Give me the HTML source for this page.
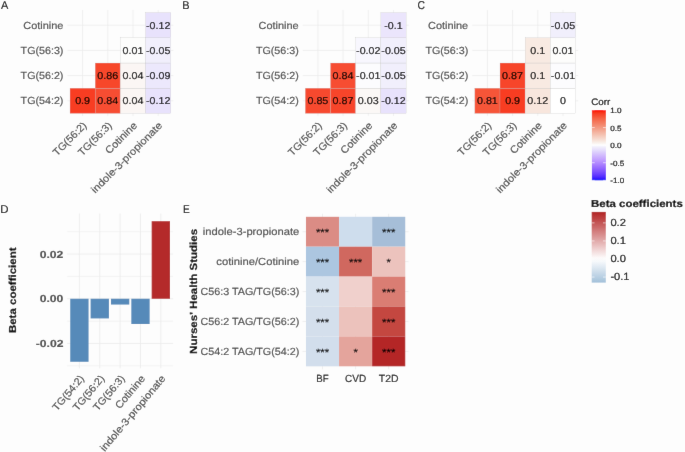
<!DOCTYPE html>
<html><head><meta charset="utf-8"><style>
html,body{margin:0;padding:0;background:#fdfdfd;}
svg{display:block;font-family:"Liberation Sans", sans-serif;}
text{text-rendering:geometricPrecision;}
</style></head><body>
<svg width="685" height="452" viewBox="0 0 685 452">
<defs><filter id="bl" x="0" y="0" width="685" height="452" filterUnits="userSpaceOnUse"><feConvolveMatrix order="3" kernelMatrix="0.0035 0.0587 0.0035 0.0587 1 0.0587 0.0035 0.0587 0.0035" divisor="1.2488" edgeMode="duplicate" preserveAlpha="true"/></filter></defs>
<g filter="url(#bl)">
<rect x="-10" y="-10" width="705" height="472" fill="#fdfdfd"/>
<text x="1.00" y="9.05" font-size="11.34" fill="#000" stroke="#000" stroke-width="0.12" textLength="7.32" lengthAdjust="spacingAndGlyphs">A</text>
<line x1="82.60" y1="10.08" x2="82.60" y2="115.92" stroke="#ebebeb" stroke-width="0.7"/>
<line x1="67.48" y1="25.20" x2="173.32" y2="25.20" stroke="#ebebeb" stroke-width="0.7"/>
<line x1="107.80" y1="10.08" x2="107.80" y2="115.92" stroke="#ebebeb" stroke-width="0.7"/>
<line x1="67.48" y1="50.40" x2="173.32" y2="50.40" stroke="#ebebeb" stroke-width="0.7"/>
<line x1="133.00" y1="10.08" x2="133.00" y2="115.92" stroke="#ebebeb" stroke-width="0.7"/>
<line x1="67.48" y1="75.60" x2="173.32" y2="75.60" stroke="#ebebeb" stroke-width="0.7"/>
<line x1="158.20" y1="10.08" x2="158.20" y2="115.92" stroke="#ebebeb" stroke-width="0.7"/>
<line x1="67.48" y1="100.80" x2="173.32" y2="100.80" stroke="#ebebeb" stroke-width="0.7"/>
<rect x="70.00" y="88.20" width="25.20" height="25.20" fill="#f83c22" stroke="#bebebe" stroke-width="0.25"/>
<rect x="95.20" y="88.20" width="25.20" height="25.20" fill="#f74d31" stroke="#bebebe" stroke-width="0.25"/>
<rect x="120.40" y="88.20" width="25.20" height="25.20" fill="#fbf6f4" stroke="#bebebe" stroke-width="0.25"/>
<rect x="145.60" y="88.20" width="25.20" height="25.20" fill="#e8e2fc" stroke="#bebebe" stroke-width="0.25"/>
<rect x="95.20" y="63.00" width="25.20" height="25.20" fill="#f7472c" stroke="#bebebe" stroke-width="0.25"/>
<rect x="120.40" y="63.00" width="25.20" height="25.20" fill="#fbf6f4" stroke="#bebebe" stroke-width="0.25"/>
<rect x="145.60" y="63.00" width="25.20" height="25.20" fill="#ece8fc" stroke="#bebebe" stroke-width="0.25"/>
<rect x="120.40" y="37.80" width="25.20" height="25.20" fill="#fdfdfc" stroke="#bebebe" stroke-width="0.25"/>
<rect x="145.60" y="37.80" width="25.20" height="25.20" fill="#f1effc" stroke="#bebebe" stroke-width="0.25"/>
<rect x="145.60" y="12.60" width="25.20" height="25.20" fill="#e8e2fc" stroke="#bebebe" stroke-width="0.25"/>
<text x="82.60" y="104.23" font-size="9.96" fill="#000" stroke="#000" stroke-width="0.18" text-anchor="middle" textLength="14.95" lengthAdjust="spacingAndGlyphs">0.9</text>
<text x="107.80" y="104.23" font-size="9.96" fill="#000" stroke="#000" stroke-width="0.18" text-anchor="middle" textLength="20.93" lengthAdjust="spacingAndGlyphs">0.84</text>
<text x="133.00" y="104.23" font-size="9.96" fill="#000" stroke="#000" stroke-width="0.18" text-anchor="middle" textLength="20.93" lengthAdjust="spacingAndGlyphs">0.04</text>
<text x="158.20" y="104.23" font-size="9.96" fill="#000" stroke="#000" stroke-width="0.18" text-anchor="middle" textLength="24.32" lengthAdjust="spacingAndGlyphs">-0.12</text>
<text x="107.80" y="79.03" font-size="9.96" fill="#000" stroke="#000" stroke-width="0.18" text-anchor="middle" textLength="20.93" lengthAdjust="spacingAndGlyphs">0.86</text>
<text x="133.00" y="79.03" font-size="9.96" fill="#000" stroke="#000" stroke-width="0.18" text-anchor="middle" textLength="20.93" lengthAdjust="spacingAndGlyphs">0.04</text>
<text x="158.20" y="79.03" font-size="9.96" fill="#000" stroke="#000" stroke-width="0.18" text-anchor="middle" textLength="24.32" lengthAdjust="spacingAndGlyphs">-0.09</text>
<text x="133.00" y="53.83" font-size="9.96" fill="#000" stroke="#000" stroke-width="0.18" text-anchor="middle" textLength="20.93" lengthAdjust="spacingAndGlyphs">0.01</text>
<text x="158.20" y="53.83" font-size="9.96" fill="#000" stroke="#000" stroke-width="0.18" text-anchor="middle" textLength="24.32" lengthAdjust="spacingAndGlyphs">-0.05</text>
<text x="158.20" y="28.63" font-size="9.96" fill="#000" stroke="#000" stroke-width="0.18" text-anchor="middle" textLength="24.32" lengthAdjust="spacingAndGlyphs">-0.12</text>
<text x="63.40" y="104.34" font-size="10.28" fill="#4d4d4d" stroke="#4d4d4d" stroke-width="0.18" text-anchor="end" textLength="42.79" lengthAdjust="spacingAndGlyphs">TG(54:2)</text>
<text x="63.40" y="79.14" font-size="10.28" fill="#4d4d4d" stroke="#4d4d4d" stroke-width="0.18" text-anchor="end" textLength="42.79" lengthAdjust="spacingAndGlyphs">TG(56:2)</text>
<text x="63.40" y="53.94" font-size="10.28" fill="#4d4d4d" stroke="#4d4d4d" stroke-width="0.18" text-anchor="end" textLength="42.79" lengthAdjust="spacingAndGlyphs">TG(56:3)</text>
<text x="63.40" y="28.74" font-size="10.28" fill="#4d4d4d" stroke="#4d4d4d" stroke-width="0.18" text-anchor="end" textLength="40.16" lengthAdjust="spacingAndGlyphs">Cotinine</text>
<text x="87.31" y="126.13" font-size="10.28" fill="#4d4d4d" stroke="#4d4d4d" stroke-width="0.18" text-anchor="end" textLength="42.79" lengthAdjust="spacingAndGlyphs" transform="rotate(-45 87.31 126.13)">TG(56:2)</text>
<text x="112.51" y="126.13" font-size="10.28" fill="#4d4d4d" stroke="#4d4d4d" stroke-width="0.18" text-anchor="end" textLength="42.79" lengthAdjust="spacingAndGlyphs" transform="rotate(-45 112.51 126.13)">TG(56:3)</text>
<text x="137.71" y="126.13" font-size="10.28" fill="#4d4d4d" stroke="#4d4d4d" stroke-width="0.18" text-anchor="end" textLength="40.16" lengthAdjust="spacingAndGlyphs" transform="rotate(-45 137.71 126.13)">Cotinine</text>
<text x="162.91" y="126.13" font-size="10.28" fill="#4d4d4d" stroke="#4d4d4d" stroke-width="0.18" text-anchor="end" textLength="95.50" lengthAdjust="spacingAndGlyphs" transform="rotate(-45 162.91 126.13)">indole-3-propionate</text>
<text x="182.20" y="9.05" font-size="11.34" fill="#000" stroke="#000" stroke-width="0.12" textLength="7.34" lengthAdjust="spacingAndGlyphs">B</text>
<line x1="317.90" y1="10.08" x2="317.90" y2="115.92" stroke="#ebebeb" stroke-width="0.7"/>
<line x1="302.78" y1="25.20" x2="408.62" y2="25.20" stroke="#ebebeb" stroke-width="0.7"/>
<line x1="343.10" y1="10.08" x2="343.10" y2="115.92" stroke="#ebebeb" stroke-width="0.7"/>
<line x1="302.78" y1="50.40" x2="408.62" y2="50.40" stroke="#ebebeb" stroke-width="0.7"/>
<line x1="368.30" y1="10.08" x2="368.30" y2="115.92" stroke="#ebebeb" stroke-width="0.7"/>
<line x1="302.78" y1="75.60" x2="408.62" y2="75.60" stroke="#ebebeb" stroke-width="0.7"/>
<line x1="393.50" y1="10.08" x2="393.50" y2="115.92" stroke="#ebebeb" stroke-width="0.7"/>
<line x1="302.78" y1="100.80" x2="408.62" y2="100.80" stroke="#ebebeb" stroke-width="0.7"/>
<rect x="305.30" y="88.20" width="25.20" height="25.20" fill="#f74a2e" stroke="#bebebe" stroke-width="0.25"/>
<rect x="330.50" y="88.20" width="25.20" height="25.20" fill="#f74529" stroke="#bebebe" stroke-width="0.25"/>
<rect x="355.70" y="88.20" width="25.20" height="25.20" fill="#fbf8f6" stroke="#bebebe" stroke-width="0.25"/>
<rect x="380.90" y="88.20" width="25.20" height="25.20" fill="#e8e2fc" stroke="#bebebe" stroke-width="0.25"/>
<rect x="330.50" y="63.00" width="25.20" height="25.20" fill="#f74d31" stroke="#bebebe" stroke-width="0.25"/>
<rect x="355.70" y="63.00" width="25.20" height="25.20" fill="#fcfcfe" stroke="#bebebe" stroke-width="0.25"/>
<rect x="380.90" y="63.00" width="25.20" height="25.20" fill="#f1effc" stroke="#bebebe" stroke-width="0.25"/>
<rect x="355.70" y="37.80" width="25.20" height="25.20" fill="#f8f7fe" stroke="#bebebe" stroke-width="0.25"/>
<rect x="380.90" y="37.80" width="25.20" height="25.20" fill="#f1effc" stroke="#bebebe" stroke-width="0.25"/>
<rect x="380.90" y="12.60" width="25.20" height="25.20" fill="#ebe5fc" stroke="#bebebe" stroke-width="0.25"/>
<text x="317.90" y="104.23" font-size="9.96" fill="#000" stroke="#000" stroke-width="0.18" text-anchor="middle" textLength="20.93" lengthAdjust="spacingAndGlyphs">0.85</text>
<text x="343.10" y="104.23" font-size="9.96" fill="#000" stroke="#000" stroke-width="0.18" text-anchor="middle" textLength="20.93" lengthAdjust="spacingAndGlyphs">0.87</text>
<text x="368.30" y="104.23" font-size="9.96" fill="#000" stroke="#000" stroke-width="0.18" text-anchor="middle" textLength="20.93" lengthAdjust="spacingAndGlyphs">0.03</text>
<text x="393.50" y="104.23" font-size="9.96" fill="#000" stroke="#000" stroke-width="0.18" text-anchor="middle" textLength="24.32" lengthAdjust="spacingAndGlyphs">-0.12</text>
<text x="343.10" y="79.03" font-size="9.96" fill="#000" stroke="#000" stroke-width="0.18" text-anchor="middle" textLength="20.93" lengthAdjust="spacingAndGlyphs">0.84</text>
<text x="368.30" y="79.03" font-size="9.96" fill="#000" stroke="#000" stroke-width="0.18" text-anchor="middle" textLength="24.32" lengthAdjust="spacingAndGlyphs">-0.01</text>
<text x="393.50" y="79.03" font-size="9.96" fill="#000" stroke="#000" stroke-width="0.18" text-anchor="middle" textLength="24.32" lengthAdjust="spacingAndGlyphs">-0.05</text>
<text x="368.30" y="53.83" font-size="9.96" fill="#000" stroke="#000" stroke-width="0.18" text-anchor="middle" textLength="24.32" lengthAdjust="spacingAndGlyphs">-0.02</text>
<text x="393.50" y="53.83" font-size="9.96" fill="#000" stroke="#000" stroke-width="0.18" text-anchor="middle" textLength="24.32" lengthAdjust="spacingAndGlyphs">-0.05</text>
<text x="393.50" y="28.63" font-size="9.96" fill="#000" stroke="#000" stroke-width="0.18" text-anchor="middle" textLength="18.34" lengthAdjust="spacingAndGlyphs">-0.1</text>
<text x="298.70" y="104.34" font-size="10.28" fill="#4d4d4d" stroke="#4d4d4d" stroke-width="0.18" text-anchor="end" textLength="42.79" lengthAdjust="spacingAndGlyphs">TG(54:2)</text>
<text x="298.70" y="79.14" font-size="10.28" fill="#4d4d4d" stroke="#4d4d4d" stroke-width="0.18" text-anchor="end" textLength="42.79" lengthAdjust="spacingAndGlyphs">TG(56:2)</text>
<text x="298.70" y="53.94" font-size="10.28" fill="#4d4d4d" stroke="#4d4d4d" stroke-width="0.18" text-anchor="end" textLength="42.79" lengthAdjust="spacingAndGlyphs">TG(56:3)</text>
<text x="298.70" y="28.74" font-size="10.28" fill="#4d4d4d" stroke="#4d4d4d" stroke-width="0.18" text-anchor="end" textLength="40.16" lengthAdjust="spacingAndGlyphs">Cotinine</text>
<text x="322.61" y="126.13" font-size="10.28" fill="#4d4d4d" stroke="#4d4d4d" stroke-width="0.18" text-anchor="end" textLength="42.79" lengthAdjust="spacingAndGlyphs" transform="rotate(-45 322.61 126.13)">TG(56:2)</text>
<text x="347.81" y="126.13" font-size="10.28" fill="#4d4d4d" stroke="#4d4d4d" stroke-width="0.18" text-anchor="end" textLength="42.79" lengthAdjust="spacingAndGlyphs" transform="rotate(-45 347.81 126.13)">TG(56:3)</text>
<text x="373.01" y="126.13" font-size="10.28" fill="#4d4d4d" stroke="#4d4d4d" stroke-width="0.18" text-anchor="end" textLength="40.16" lengthAdjust="spacingAndGlyphs" transform="rotate(-45 373.01 126.13)">Cotinine</text>
<text x="398.21" y="126.13" font-size="10.28" fill="#4d4d4d" stroke="#4d4d4d" stroke-width="0.18" text-anchor="end" textLength="95.50" lengthAdjust="spacingAndGlyphs" transform="rotate(-45 398.21 126.13)">indole-3-propionate</text>
<text x="417.40" y="9.05" font-size="11.34" fill="#000" stroke="#000" stroke-width="0.12" textLength="7.47" lengthAdjust="spacingAndGlyphs">C</text>
<line x1="487.40" y1="10.08" x2="487.40" y2="115.92" stroke="#ebebeb" stroke-width="0.7"/>
<line x1="472.28" y1="25.20" x2="578.12" y2="25.20" stroke="#ebebeb" stroke-width="0.7"/>
<line x1="512.60" y1="10.08" x2="512.60" y2="115.92" stroke="#ebebeb" stroke-width="0.7"/>
<line x1="472.28" y1="50.40" x2="578.12" y2="50.40" stroke="#ebebeb" stroke-width="0.7"/>
<line x1="537.80" y1="10.08" x2="537.80" y2="115.92" stroke="#ebebeb" stroke-width="0.7"/>
<line x1="472.28" y1="75.60" x2="578.12" y2="75.60" stroke="#ebebeb" stroke-width="0.7"/>
<line x1="563.00" y1="10.08" x2="563.00" y2="115.92" stroke="#ebebeb" stroke-width="0.7"/>
<line x1="472.28" y1="100.80" x2="578.12" y2="100.80" stroke="#ebebeb" stroke-width="0.7"/>
<rect x="474.80" y="88.20" width="25.20" height="25.20" fill="#f65538" stroke="#bebebe" stroke-width="0.25"/>
<rect x="500.00" y="88.20" width="25.20" height="25.20" fill="#f83c22" stroke="#bebebe" stroke-width="0.25"/>
<rect x="525.20" y="88.20" width="25.20" height="25.20" fill="#f8e6dd" stroke="#bebebe" stroke-width="0.25"/>
<rect x="550.40" y="88.20" width="25.20" height="25.20" fill="#ffffff" stroke="#bebebe" stroke-width="0.25"/>
<rect x="500.00" y="63.00" width="25.20" height="25.20" fill="#f74529" stroke="#bebebe" stroke-width="0.25"/>
<rect x="525.20" y="63.00" width="25.20" height="25.20" fill="#f8eae2" stroke="#bebebe" stroke-width="0.25"/>
<rect x="550.40" y="63.00" width="25.20" height="25.20" fill="#fcfcfe" stroke="#bebebe" stroke-width="0.25"/>
<rect x="525.20" y="37.80" width="25.20" height="25.20" fill="#f8eae2" stroke="#bebebe" stroke-width="0.25"/>
<rect x="550.40" y="37.80" width="25.20" height="25.20" fill="#fdfdfc" stroke="#bebebe" stroke-width="0.25"/>
<rect x="550.40" y="12.60" width="25.20" height="25.20" fill="#f1effc" stroke="#bebebe" stroke-width="0.25"/>
<text x="487.40" y="104.23" font-size="9.96" fill="#000" stroke="#000" stroke-width="0.18" text-anchor="middle" textLength="20.93" lengthAdjust="spacingAndGlyphs">0.81</text>
<text x="512.60" y="104.23" font-size="9.96" fill="#000" stroke="#000" stroke-width="0.18" text-anchor="middle" textLength="14.95" lengthAdjust="spacingAndGlyphs">0.9</text>
<text x="537.80" y="104.23" font-size="9.96" fill="#000" stroke="#000" stroke-width="0.18" text-anchor="middle" textLength="20.93" lengthAdjust="spacingAndGlyphs">0.12</text>
<text x="563.00" y="104.23" font-size="9.96" fill="#000" stroke="#000" stroke-width="0.18" text-anchor="middle" textLength="5.98" lengthAdjust="spacingAndGlyphs">0</text>
<text x="512.60" y="79.03" font-size="9.96" fill="#000" stroke="#000" stroke-width="0.18" text-anchor="middle" textLength="20.93" lengthAdjust="spacingAndGlyphs">0.87</text>
<text x="537.80" y="79.03" font-size="9.96" fill="#000" stroke="#000" stroke-width="0.18" text-anchor="middle" textLength="14.95" lengthAdjust="spacingAndGlyphs">0.1</text>
<text x="563.00" y="79.03" font-size="9.96" fill="#000" stroke="#000" stroke-width="0.18" text-anchor="middle" textLength="24.32" lengthAdjust="spacingAndGlyphs">-0.01</text>
<text x="537.80" y="53.83" font-size="9.96" fill="#000" stroke="#000" stroke-width="0.18" text-anchor="middle" textLength="14.95" lengthAdjust="spacingAndGlyphs">0.1</text>
<text x="563.00" y="53.83" font-size="9.96" fill="#000" stroke="#000" stroke-width="0.18" text-anchor="middle" textLength="20.93" lengthAdjust="spacingAndGlyphs">0.01</text>
<text x="563.00" y="28.63" font-size="9.96" fill="#000" stroke="#000" stroke-width="0.18" text-anchor="middle" textLength="24.32" lengthAdjust="spacingAndGlyphs">-0.05</text>
<text x="468.20" y="104.34" font-size="10.28" fill="#4d4d4d" stroke="#4d4d4d" stroke-width="0.18" text-anchor="end" textLength="42.79" lengthAdjust="spacingAndGlyphs">TG(54:2)</text>
<text x="468.20" y="79.14" font-size="10.28" fill="#4d4d4d" stroke="#4d4d4d" stroke-width="0.18" text-anchor="end" textLength="42.79" lengthAdjust="spacingAndGlyphs">TG(56:2)</text>
<text x="468.20" y="53.94" font-size="10.28" fill="#4d4d4d" stroke="#4d4d4d" stroke-width="0.18" text-anchor="end" textLength="42.79" lengthAdjust="spacingAndGlyphs">TG(56:3)</text>
<text x="468.20" y="28.74" font-size="10.28" fill="#4d4d4d" stroke="#4d4d4d" stroke-width="0.18" text-anchor="end" textLength="40.16" lengthAdjust="spacingAndGlyphs">Cotinine</text>
<text x="492.11" y="126.13" font-size="10.28" fill="#4d4d4d" stroke="#4d4d4d" stroke-width="0.18" text-anchor="end" textLength="42.79" lengthAdjust="spacingAndGlyphs" transform="rotate(-45 492.11 126.13)">TG(56:2)</text>
<text x="517.31" y="126.13" font-size="10.28" fill="#4d4d4d" stroke="#4d4d4d" stroke-width="0.18" text-anchor="end" textLength="42.79" lengthAdjust="spacingAndGlyphs" transform="rotate(-45 517.31 126.13)">TG(56:3)</text>
<text x="542.51" y="126.13" font-size="10.28" fill="#4d4d4d" stroke="#4d4d4d" stroke-width="0.18" text-anchor="end" textLength="40.16" lengthAdjust="spacingAndGlyphs" transform="rotate(-45 542.51 126.13)">Cotinine</text>
<text x="567.71" y="126.13" font-size="10.28" fill="#4d4d4d" stroke="#4d4d4d" stroke-width="0.18" text-anchor="end" textLength="95.50" lengthAdjust="spacingAndGlyphs" transform="rotate(-45 567.71 126.13)">indole-3-propionate</text>
<text x="591.30" y="104.80" font-size="9.43" fill="#000" stroke="#000" stroke-width="0.18" textLength="18.98" lengthAdjust="spacingAndGlyphs">Corr</text>
<defs><linearGradient id="gc" x1="0" y1="0" x2="0" y2="1"><stop offset="0.000" stop-color="#ff0000"/><stop offset="0.025" stop-color="#fa2813"/><stop offset="0.050" stop-color="#f83c22"/><stop offset="0.075" stop-color="#f74a2e"/><stop offset="0.100" stop-color="#f6573a"/><stop offset="0.125" stop-color="#f56446"/><stop offset="0.150" stop-color="#f46e52"/><stop offset="0.175" stop-color="#f4795e"/><stop offset="0.200" stop-color="#f38369"/><stop offset="0.225" stop-color="#f38e75"/><stop offset="0.250" stop-color="#f39881"/><stop offset="0.275" stop-color="#f3a28d"/><stop offset="0.300" stop-color="#f3ac98"/><stop offset="0.325" stop-color="#f4b7a5"/><stop offset="0.350" stop-color="#f4c1b0"/><stop offset="0.375" stop-color="#f5cbbd"/><stop offset="0.400" stop-color="#f6d5c9"/><stop offset="0.425" stop-color="#f7dfd5"/><stop offset="0.450" stop-color="#f8eae2"/><stop offset="0.475" stop-color="#faf4f0"/><stop offset="0.500" stop-color="#ffffff"/><stop offset="0.525" stop-color="#f1effc"/><stop offset="0.550" stop-color="#ebe5fc"/><stop offset="0.575" stop-color="#e4dbfc"/><stop offset="0.600" stop-color="#dccffc"/><stop offset="0.625" stop-color="#d7c3fd"/><stop offset="0.650" stop-color="#d0b8fe"/><stop offset="0.675" stop-color="#caadfe"/><stop offset="0.700" stop-color="#c4a2ff"/><stop offset="0.725" stop-color="#bc97ff"/><stop offset="0.750" stop-color="#b38bff"/><stop offset="0.775" stop-color="#aa80ff"/><stop offset="0.800" stop-color="#a074ff"/><stop offset="0.825" stop-color="#9569ff"/><stop offset="0.850" stop-color="#8a5dff"/><stop offset="0.875" stop-color="#7e52ff"/><stop offset="0.900" stop-color="#7145ff"/><stop offset="0.925" stop-color="#6239ff"/><stop offset="0.950" stop-color="#502bff"/><stop offset="0.975" stop-color="#381bff"/><stop offset="1.000" stop-color="#0000ff"/></linearGradient></defs>
<rect x="591.90" y="110.00" width="14.00" height="70.30" fill="url(#gc)"/>
<line x1="591.90" y1="110.00" x2="594.70" y2="110.00" stroke="#fff" stroke-width="0.6"/>
<line x1="603.10" y1="110.00" x2="605.90" y2="110.00" stroke="#fff" stroke-width="0.6"/>
<text x="610.30" y="112.99" font-size="7.53" fill="#000" stroke="#000" stroke-width="0.18" textLength="11.29" lengthAdjust="spacingAndGlyphs">1.0</text>
<line x1="591.90" y1="127.58" x2="594.70" y2="127.58" stroke="#fff" stroke-width="0.6"/>
<line x1="603.10" y1="127.58" x2="605.90" y2="127.58" stroke="#fff" stroke-width="0.6"/>
<text x="610.30" y="130.56" font-size="7.53" fill="#000" stroke="#000" stroke-width="0.18" textLength="11.29" lengthAdjust="spacingAndGlyphs">0.5</text>
<line x1="591.90" y1="145.15" x2="594.70" y2="145.15" stroke="#fff" stroke-width="0.6"/>
<line x1="603.10" y1="145.15" x2="605.90" y2="145.15" stroke="#fff" stroke-width="0.6"/>
<text x="610.30" y="148.14" font-size="7.53" fill="#000" stroke="#000" stroke-width="0.18" textLength="11.29" lengthAdjust="spacingAndGlyphs">0.0</text>
<line x1="591.90" y1="162.72" x2="594.70" y2="162.72" stroke="#fff" stroke-width="0.6"/>
<line x1="603.10" y1="162.72" x2="605.90" y2="162.72" stroke="#fff" stroke-width="0.6"/>
<text x="610.30" y="165.71" font-size="7.53" fill="#000" stroke="#000" stroke-width="0.18" textLength="13.85" lengthAdjust="spacingAndGlyphs">-0.5</text>
<line x1="591.90" y1="180.30" x2="594.70" y2="180.30" stroke="#fff" stroke-width="0.6"/>
<line x1="603.10" y1="180.30" x2="605.90" y2="180.30" stroke="#fff" stroke-width="0.6"/>
<text x="610.30" y="183.29" font-size="7.53" fill="#000" stroke="#000" stroke-width="0.18" textLength="13.85" lengthAdjust="spacingAndGlyphs">-1.0</text>
<text x="0.30" y="212.80" font-size="11.34" fill="#000" stroke="#000" stroke-width="0.12" textLength="8.24" lengthAdjust="spacingAndGlyphs">D</text>
<line x1="67.18" y1="231.70" x2="173.06" y2="231.70" stroke="#ebebeb" stroke-width="0.55"/>
<line x1="67.18" y1="276.40" x2="173.06" y2="276.40" stroke="#ebebeb" stroke-width="0.55"/>
<line x1="67.18" y1="321.10" x2="173.06" y2="321.10" stroke="#ebebeb" stroke-width="0.55"/>
<line x1="67.18" y1="365.80" x2="173.06" y2="365.80" stroke="#ebebeb" stroke-width="0.55"/>
<line x1="67.18" y1="254.05" x2="173.06" y2="254.05" stroke="#ebebeb" stroke-width="0.8"/>
<line x1="67.18" y1="298.75" x2="173.06" y2="298.75" stroke="#ebebeb" stroke-width="0.8"/>
<line x1="67.18" y1="343.45" x2="173.06" y2="343.45" stroke="#ebebeb" stroke-width="0.8"/>
<line x1="79.40" y1="213.60" x2="79.40" y2="368.30" stroke="#ebebeb" stroke-width="0.8"/>
<line x1="99.76" y1="213.60" x2="99.76" y2="368.30" stroke="#ebebeb" stroke-width="0.8"/>
<line x1="120.12" y1="213.60" x2="120.12" y2="368.30" stroke="#ebebeb" stroke-width="0.8"/>
<line x1="140.48" y1="213.60" x2="140.48" y2="368.30" stroke="#ebebeb" stroke-width="0.8"/>
<line x1="160.84" y1="213.60" x2="160.84" y2="368.30" stroke="#ebebeb" stroke-width="0.8"/>
<rect x="70.24" y="298.75" width="18.32" height="63.03" fill="#568ab9"/>
<rect x="90.60" y="298.75" width="18.32" height="19.67" fill="#568ab9"/>
<rect x="110.96" y="298.75" width="18.32" height="5.81" fill="#568ab9"/>
<rect x="131.32" y="298.75" width="18.32" height="25.26" fill="#568ab9"/>
<rect x="151.68" y="221.20" width="18.32" height="77.55" fill="#b42929"/>
<text x="63.40" y="257.55" font-size="10.18" fill="#4d4d4d" stroke="#4d4d4d" stroke-width="0.18" text-anchor="end" font-weight="bold" textLength="23.69" lengthAdjust="spacingAndGlyphs">0.02</text>
<text x="63.40" y="302.25" font-size="10.18" fill="#4d4d4d" stroke="#4d4d4d" stroke-width="0.18" text-anchor="end" font-weight="bold" textLength="23.69" lengthAdjust="spacingAndGlyphs">0.00</text>
<text x="63.40" y="346.95" font-size="10.18" fill="#4d4d4d" stroke="#4d4d4d" stroke-width="0.18" text-anchor="end" font-weight="bold" textLength="27.67" lengthAdjust="spacingAndGlyphs">-0.02</text>
<text x="16.20" y="290.30" font-size="10.18" fill="#000" stroke="#000" stroke-width="0.18" text-anchor="middle" font-weight="bold" textLength="85.59" lengthAdjust="spacingAndGlyphs" transform="rotate(-90 16.20 290.30)">Beta coefficient</text>
<text x="84.61" y="378.81" font-size="10.28" fill="#4d4d4d" stroke="#4d4d4d" stroke-width="0.18" text-anchor="end" textLength="42.79" lengthAdjust="spacingAndGlyphs" transform="rotate(-50 84.61 378.81)">TG(54:2)</text>
<text x="104.97" y="378.81" font-size="10.28" fill="#4d4d4d" stroke="#4d4d4d" stroke-width="0.18" text-anchor="end" textLength="42.79" lengthAdjust="spacingAndGlyphs" transform="rotate(-50 104.97 378.81)">TG(56:2)</text>
<text x="125.33" y="378.81" font-size="10.28" fill="#4d4d4d" stroke="#4d4d4d" stroke-width="0.18" text-anchor="end" textLength="42.79" lengthAdjust="spacingAndGlyphs" transform="rotate(-50 125.33 378.81)">TG(56:3)</text>
<text x="145.69" y="378.81" font-size="10.28" fill="#4d4d4d" stroke="#4d4d4d" stroke-width="0.18" text-anchor="end" textLength="40.16" lengthAdjust="spacingAndGlyphs" transform="rotate(-50 145.69 378.81)">Cotinine</text>
<text x="166.05" y="378.81" font-size="10.28" fill="#4d4d4d" stroke="#4d4d4d" stroke-width="0.18" text-anchor="end" textLength="95.50" lengthAdjust="spacingAndGlyphs" transform="rotate(-50 166.05 378.81)">indole-3-propionate</text>
<text x="183.00" y="212.60" font-size="11.34" fill="#000" stroke="#000" stroke-width="0.12" textLength="6.76" lengthAdjust="spacingAndGlyphs">E</text>
<line x1="322.50" y1="213.81" x2="322.50" y2="369.29" stroke="#ebebeb" stroke-width="0.8"/>
<line x1="355.60" y1="213.81" x2="355.60" y2="369.29" stroke="#ebebeb" stroke-width="0.8"/>
<line x1="388.70" y1="213.81" x2="388.70" y2="369.29" stroke="#ebebeb" stroke-width="0.8"/>
<line x1="302.64" y1="231.75" x2="408.56" y2="231.75" stroke="#ebebeb" stroke-width="0.8"/>
<line x1="302.64" y1="261.65" x2="408.56" y2="261.65" stroke="#ebebeb" stroke-width="0.8"/>
<line x1="302.64" y1="291.55" x2="408.56" y2="291.55" stroke="#ebebeb" stroke-width="0.8"/>
<line x1="302.64" y1="321.45" x2="408.56" y2="321.45" stroke="#ebebeb" stroke-width="0.8"/>
<line x1="302.64" y1="351.35" x2="408.56" y2="351.35" stroke="#ebebeb" stroke-width="0.8"/>
<rect x="305.95" y="216.80" width="33.10" height="29.90" fill="#db8c85"/>
<rect x="339.05" y="216.80" width="33.10" height="29.90" fill="#cedded"/>
<rect x="372.15" y="216.80" width="33.10" height="29.90" fill="#a6bed8"/>
<rect x="305.95" y="246.70" width="33.10" height="29.90" fill="#acc6e0"/>
<rect x="339.05" y="246.70" width="33.10" height="29.90" fill="#d0685e"/>
<rect x="372.15" y="246.70" width="33.10" height="29.90" fill="#ecc3bd"/>
<rect x="305.95" y="276.60" width="33.10" height="29.90" fill="#d7e2ee"/>
<rect x="339.05" y="276.60" width="33.10" height="29.90" fill="#f0d0cc"/>
<rect x="372.15" y="276.60" width="33.10" height="29.90" fill="#da7d73"/>
<rect x="305.95" y="306.50" width="33.10" height="29.90" fill="#d4dfec"/>
<rect x="339.05" y="306.50" width="33.10" height="29.90" fill="#ecc2bc"/>
<rect x="372.15" y="306.50" width="33.10" height="29.90" fill="#c4463f"/>
<rect x="305.95" y="336.40" width="33.10" height="29.90" fill="#d2deec"/>
<rect x="339.05" y="336.40" width="33.10" height="29.90" fill="#e4a49c"/>
<rect x="372.15" y="336.40" width="33.10" height="29.90" fill="#b42628"/>
<text x="322.50" y="236.05" font-size="10.6" fill="#000" stroke="#000" stroke-width="0.12" text-anchor="middle" textLength="13.20" lengthAdjust="spacingAndGlyphs">***</text>
<text x="388.70" y="236.05" font-size="10.6" fill="#000" stroke="#000" stroke-width="0.12" text-anchor="middle" textLength="13.20" lengthAdjust="spacingAndGlyphs">***</text>
<text x="322.50" y="265.95" font-size="10.6" fill="#000" stroke="#000" stroke-width="0.12" text-anchor="middle" textLength="13.20" lengthAdjust="spacingAndGlyphs">***</text>
<text x="355.60" y="265.95" font-size="10.6" fill="#000" stroke="#000" stroke-width="0.12" text-anchor="middle" textLength="13.20" lengthAdjust="spacingAndGlyphs">***</text>
<text x="388.70" y="265.95" font-size="10.6" fill="#000" stroke="#000" stroke-width="0.12" text-anchor="middle" textLength="4.40" lengthAdjust="spacingAndGlyphs">*</text>
<text x="322.50" y="295.85" font-size="10.6" fill="#000" stroke="#000" stroke-width="0.12" text-anchor="middle" textLength="13.20" lengthAdjust="spacingAndGlyphs">***</text>
<text x="388.70" y="295.85" font-size="10.6" fill="#000" stroke="#000" stroke-width="0.12" text-anchor="middle" textLength="13.20" lengthAdjust="spacingAndGlyphs">***</text>
<text x="322.50" y="325.75" font-size="10.6" fill="#000" stroke="#000" stroke-width="0.12" text-anchor="middle" textLength="13.20" lengthAdjust="spacingAndGlyphs">***</text>
<text x="388.70" y="325.75" font-size="10.6" fill="#000" stroke="#000" stroke-width="0.12" text-anchor="middle" textLength="13.20" lengthAdjust="spacingAndGlyphs">***</text>
<text x="322.50" y="355.65" font-size="10.6" fill="#000" stroke="#000" stroke-width="0.12" text-anchor="middle" textLength="13.20" lengthAdjust="spacingAndGlyphs">***</text>
<text x="355.60" y="355.65" font-size="10.6" fill="#000" stroke="#000" stroke-width="0.12" text-anchor="middle" textLength="4.40" lengthAdjust="spacingAndGlyphs">*</text>
<text x="388.70" y="355.65" font-size="10.6" fill="#000" stroke="#000" stroke-width="0.12" text-anchor="middle" textLength="13.20" lengthAdjust="spacingAndGlyphs">***</text>
<text x="299.30" y="235.32" font-size="10.39" fill="#4d4d4d" stroke="#4d4d4d" stroke-width="0.18" text-anchor="end" textLength="96.48" lengthAdjust="spacingAndGlyphs">indole-3-propionate</text>
<text x="299.30" y="265.22" font-size="10.39" fill="#4d4d4d" stroke="#4d4d4d" stroke-width="0.18" text-anchor="end" textLength="83.00" lengthAdjust="spacingAndGlyphs">cotinine/Cotinine</text>
<text x="299.30" y="295.12" font-size="10.39" fill="#4d4d4d" stroke="#4d4d4d" stroke-width="0.18" text-anchor="end" textLength="98.78" lengthAdjust="spacingAndGlyphs">C56:3 TAG/TG(56:3)</text>
<text x="299.30" y="325.02" font-size="10.39" fill="#4d4d4d" stroke="#4d4d4d" stroke-width="0.18" text-anchor="end" textLength="98.78" lengthAdjust="spacingAndGlyphs">C56:2 TAG/TG(56:2)</text>
<text x="299.30" y="354.92" font-size="10.39" fill="#4d4d4d" stroke="#4d4d4d" stroke-width="0.18" text-anchor="end" textLength="98.78" lengthAdjust="spacingAndGlyphs">C54:2 TAG/TG(54:2)</text>
<text x="322.50" y="381.50" font-size="10.39" fill="#1a1a1a" stroke="#1a1a1a" stroke-width="0.18" text-anchor="middle" textLength="12.36" lengthAdjust="spacingAndGlyphs">BF</text>
<text x="355.60" y="381.50" font-size="10.39" fill="#1a1a1a" stroke="#1a1a1a" stroke-width="0.18" text-anchor="middle" textLength="21.09" lengthAdjust="spacingAndGlyphs">CVD</text>
<text x="388.70" y="381.50" font-size="10.39" fill="#1a1a1a" stroke="#1a1a1a" stroke-width="0.18" text-anchor="middle" textLength="19.77" lengthAdjust="spacingAndGlyphs">T2D</text>
<text x="197.10" y="291.40" font-size="10.28" fill="#000" stroke="#000" stroke-width="0.18" text-anchor="middle" font-weight="bold" textLength="124.92" lengthAdjust="spacingAndGlyphs" transform="rotate(-90 197.10 291.40)">Nurses&#39; Health Studies</text>
<text x="591.00" y="206.60" font-size="10.23" fill="#000" stroke="#000" stroke-width="0.18" font-weight="bold" textLength="91.78" lengthAdjust="spacingAndGlyphs">Beta coefficients</text>
<defs><linearGradient id="gb" x1="0" y1="0" x2="0" y2="1"><stop offset="0.000" stop-color="#b22222"/><stop offset="0.050" stop-color="#b83333"/><stop offset="0.100" stop-color="#be4343"/><stop offset="0.150" stop-color="#c35454"/><stop offset="0.200" stop-color="#c96464"/><stop offset="0.250" stop-color="#cf7575"/><stop offset="0.300" stop-color="#d58686"/><stop offset="0.350" stop-color="#da9696"/><stop offset="0.400" stop-color="#e0a7a7"/><stop offset="0.450" stop-color="#e6b7b7"/><stop offset="0.500" stop-color="#ecc8c8"/><stop offset="0.550" stop-color="#f2d9d9"/><stop offset="0.600" stop-color="#f7e9e9"/><stop offset="0.650" stop-color="#fdfafa"/><stop offset="0.700" stop-color="#f6f9fb"/><stop offset="0.750" stop-color="#e8eff6"/><stop offset="0.800" stop-color="#dae6f0"/><stop offset="0.850" stop-color="#ccdcea"/><stop offset="0.900" stop-color="#bed3e5"/><stop offset="0.950" stop-color="#b0cadf"/><stop offset="1.000" stop-color="#a2c0d9"/></linearGradient></defs>
<rect x="591.70" y="211.90" width="14.10" height="70.70" fill="url(#gb)"/>
<line x1="591.70" y1="222.90" x2="594.50" y2="222.90" stroke="#fff" stroke-width="0.6"/>
<line x1="603.00" y1="222.90" x2="605.80" y2="222.90" stroke="#fff" stroke-width="0.6"/>
<text x="610.40" y="225.97" font-size="10.39" fill="#000" stroke="#000" stroke-width="0.18" textLength="15.59" lengthAdjust="spacingAndGlyphs">0.2</text>
<line x1="591.70" y1="240.95" x2="594.50" y2="240.95" stroke="#fff" stroke-width="0.6"/>
<line x1="603.00" y1="240.95" x2="605.80" y2="240.95" stroke="#fff" stroke-width="0.6"/>
<text x="610.40" y="244.02" font-size="10.39" fill="#000" stroke="#000" stroke-width="0.18" textLength="15.59" lengthAdjust="spacingAndGlyphs">0.1</text>
<line x1="591.70" y1="259.00" x2="594.50" y2="259.00" stroke="#fff" stroke-width="0.6"/>
<line x1="603.00" y1="259.00" x2="605.80" y2="259.00" stroke="#fff" stroke-width="0.6"/>
<text x="610.40" y="262.07" font-size="10.39" fill="#000" stroke="#000" stroke-width="0.18" textLength="15.59" lengthAdjust="spacingAndGlyphs">0.0</text>
<line x1="591.70" y1="277.05" x2="594.50" y2="277.05" stroke="#fff" stroke-width="0.6"/>
<line x1="603.00" y1="277.05" x2="605.80" y2="277.05" stroke="#fff" stroke-width="0.6"/>
<text x="610.40" y="280.12" font-size="10.39" fill="#000" stroke="#000" stroke-width="0.18" textLength="19.12" lengthAdjust="spacingAndGlyphs">-0.1</text>
</g>
</svg></body></html>
